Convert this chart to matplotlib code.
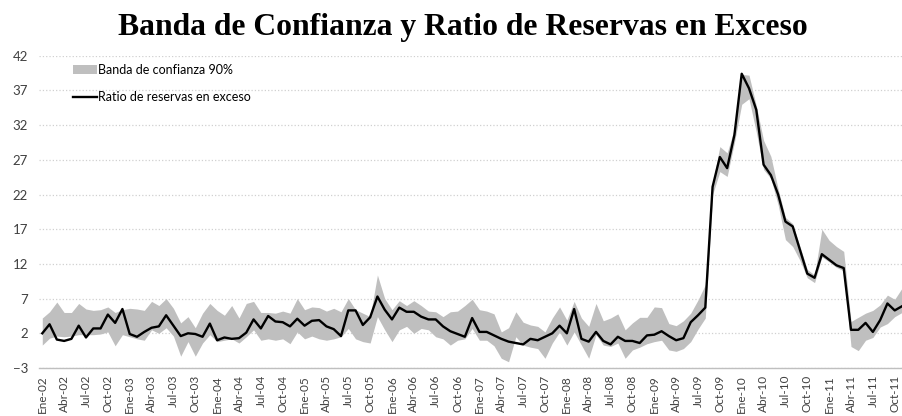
#! /usr/bin/python
import numpy as np
import matplotlib
matplotlib.use("Agg")
import matplotlib.pyplot as plt
from matplotlib.patches import Patch
from matplotlib.lines import Line2D

# meses Ene-02 .. Nov-11
meses = ['Ene', 'Feb', 'Mar', 'Abr', 'May', 'Jun', 'Jul', 'Ago', 'Sep', 'Oct', 'Nov', 'Dic']
anios = ['02', '03', '04', '05', '06', '07', '08', '09', '10', '11']
fechas = [m + '-' + a for a in anios for m in meses][:119]

ratio = [2.0, 3.3, 1.1, 0.9, 1.2, 3.1, 1.4, 2.7, 2.7, 4.7, 3.5, 5.5,
         1.9, 1.5, 2.2, 2.8, 3.0, 4.6, 3.1, 1.6, 2.0, 1.9, 1.5, 3.4,
         1.0, 1.4, 1.2, 1.3, 2.1, 4.0, 2.7, 4.5, 3.7, 3.6, 3.0, 4.1,
         3.1, 3.8, 3.9, 3.0, 2.6, 1.6, 5.3, 5.3, 3.2, 4.3, 7.3, 5.4,
         4.0, 5.7, 5.1, 5.1, 4.4, 4.0, 4.0, 3.0, 2.3, 1.9, 1.5, 4.2,
         2.2, 2.2, 1.7, 1.2, 0.8, 0.6, 0.4, 1.2, 1.0, 1.5, 2.0, 3.1,
         2.0, 5.5, 1.2, 0.8, 2.2, 0.9, 0.4, 1.5, 0.9, 0.9, 0.6, 1.7,
         1.8, 2.3, 1.6, 1.0, 1.3, 3.6, 4.6, 5.7, 23.1, 27.4, 25.8, 30.6,
         39.4, 37.3, 34.2, 26.3, 24.8, 22.0, 18.1, 17.4, 14.0, 10.6, 10.0, 13.4,
         12.6, 11.8, 11.4, 2.5, 2.5, 3.5, 2.2, 3.9, 6.3, 5.3, 5.9]

banda_sup = [4.2, 5.1, 6.5, 5.0, 5.0, 6.3, 5.5, 5.3, 5.4, 5.8, 5.0, 5.4,
             5.6, 5.5, 5.3, 6.6, 6.0, 7.0, 5.6, 3.5, 4.4, 2.8, 4.9, 6.3,
             5.3, 4.6, 6.0, 4.2, 6.3, 6.6, 5.0, 5.0, 4.9, 5.2, 4.9, 7.0,
             5.4, 5.8, 5.7, 5.2, 5.6, 5.1, 7.0, 5.4, 4.9, 4.4, 10.4, 7.0,
             5.4, 6.7, 6.0, 6.7, 6.0, 5.2, 5.1, 4.4, 5.1, 5.2, 6.0, 6.9,
             5.4, 5.2, 4.8, 2.2, 2.8, 5.1, 3.6, 3.2, 3.0, 2.2, 4.2, 5.8,
             3.9, 6.6, 4.2, 3.0, 6.3, 3.8, 4.2, 4.8, 2.5, 3.5, 4.3, 4.3,
             5.8, 5.7, 3.4, 3.1, 3.8, 4.9, 6.8, 9.0, 23.6, 28.9, 28.0, 31.5,
             39.3, 39.2, 34.8, 29.8, 27.5, 22.8, 18.7, 17.8, 14.5, 11.2, 10.4, 17.0,
             15.4, 14.5, 13.8, 3.7, 4.3, 4.9, 5.3, 6.1, 7.5, 6.9, 8.5]

banda_inf = [0.3, 1.3, 1.6, 1.5, 1.6, 1.8, 1.8, 1.8, 1.9, 2.2, 0.2, 1.8,
             1.5, 1.2, 1.0, 2.5, 2.0, 2.8, 1.6, -1.3, 0.8, -1.3, 0.6, 1.8,
             0.8, 1.0, 1.2, 0.6, 1.5, 2.5, 1.0, 1.2, 1.0, 1.2, 0.5, 2.2,
             1.2, 1.6, 1.2, 1.0, 1.2, 1.5, 2.7, 1.2, 0.8, 0.6, 4.4, 2.5,
             0.8, 2.5, 3.0, 2.0, 2.7, 2.5, 1.5, 1.2, 0.3, 1.0, 1.2, 2.7,
             1.0, 1.0, 0.2, -1.6, -2.1, 1.5, 0.3, 0.0, -0.2, -1.6, 0.6, 2.2,
             0.3, 2.2, 0.3, -1.6, 1.8, 0.3, 0.1, 0.6, -1.6, -0.4, 0.0, 0.5,
             0.8, 1.0, -0.4, -0.6, -0.2, 0.8, 2.6, 4.2, 22.0, 25.3, 24.6, 29.5,
             35.0, 35.8, 31.0, 25.6, 24.3, 20.5, 15.5, 14.5, 12.5, 10.0, 9.3, 13.0,
             12.3, 11.5, 11.0, 0.1, -0.5, 1.0, 1.4, 2.9, 3.4, 4.4, 5.0]

fuente = ['Lato', 'DejaVu Sans']
plt.rcParams['font.family'] = fuente

x = np.arange(len(ratio))

fig = plt.figure(figsize=(9.02, 4.16), dpi=100)
ax = fig.add_axes([39.0 / 902, 48.0 / 416, 863.0 / 902, 312.3 / 416])

ax.fill_between(x, banda_inf, banda_sup, color='#bfbfbf', linewidth=0, zorder=2)
ax.plot(x, ratio, color='black', linewidth=1.7, zorder=3)

ax.set_xlim(-0.45, len(ratio) - 1)
ax.set_ylim(-3, 42)
ax.set_yticks(np.arange(-3, 43, 5))
ax.yaxis.grid(True, linestyle=':', color='#d0d0d0', linewidth=0.9)
ax.set_axisbelow(True)
ax.tick_params(axis='y', length=0, labelsize=9.5, labelcolor='#404040', pad=8)

ax.set_xticks(x[::3])
ax.set_xticklabels(fechas[::3], rotation=90, fontsize=8.5, color='#404040')
ax.tick_params(axis='x', length=0, pad=5)

for lado in ['top', 'right', 'left']:
    ax.spines[lado].set_visible(False)
ax.spines['bottom'].set_color('#bfbfbf')
ax.spines['bottom'].set_linewidth(1.0)

fig.text(463.0 / 902, 1 - 27.0 / 416, 'Banda de Confianza y Ratio de Reservas en Exceso',
         ha='center', va='center', fontsize=22.8, fontweight='bold',
         family=['Liberation Serif', 'DejaVu Serif'])

handles = [Patch(facecolor='#bfbfbf', edgecolor='none'),
           Line2D([0], [0], color='black', linewidth=1.7)]
ax.legend(handles, ['Banda de confianza 90%', 'Ratio de reservas en exceso'],
          loc='upper left', bbox_to_anchor=(0.034, 0.99), frameon=False,
          fontsize=9, labelspacing=1.25, handlelength=1.9, handletextpad=0.1,
          borderaxespad=0)

fig.savefig('out.png', dpi=100)
